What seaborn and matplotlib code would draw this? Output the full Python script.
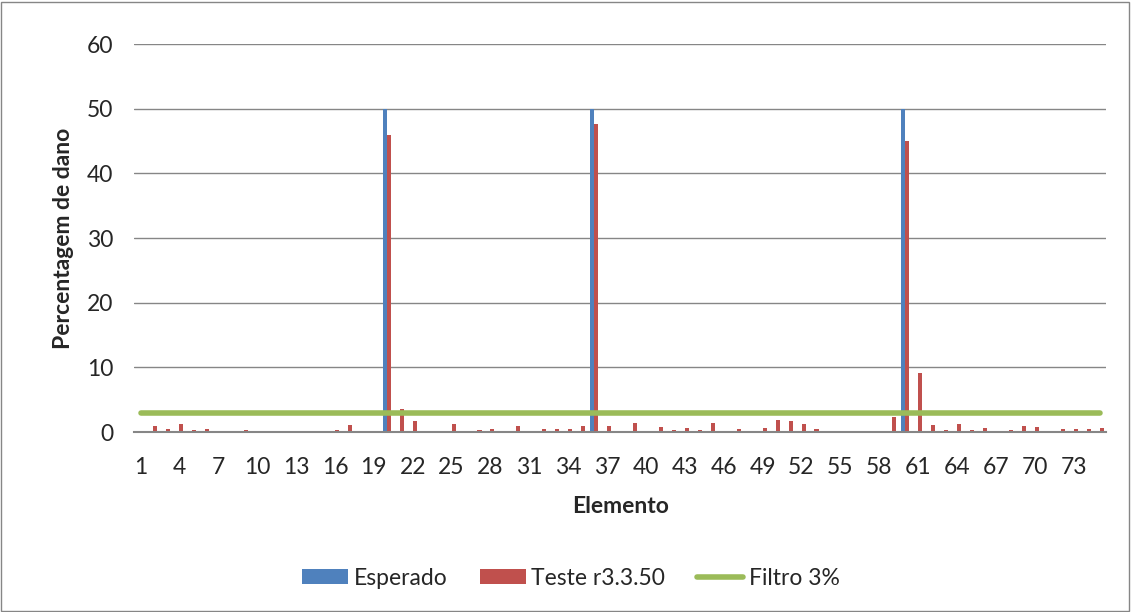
import numpy as np
import pandas as pd
import seaborn as sns
import matplotlib.pyplot as plt
from matplotlib.patches import Rectangle

# element numbers 1..75
elementos = list(range(1, 76))

# expected damage (%) - only three damaged elements
esperado = [0.0] * 75
for e in (20, 36, 60):
    esperado[e - 1] = 50.0

# identified damage (%), test r3.3.50
teste = [
    0.2, 1.0, 0.5, 1.2, 0.3, 0.45, 0.2, 0.2, 0.25, 0.0,
    0.15, 0.15, 0.0, 0.0, 0.2, 0.35, 1.1, 0.2, 0.15, 46.0,
    3.6, 1.65, 0.0, 0.1, 1.25, 0.0, 0.25, 0.5, 0.1, 0.9,
    0.0, 0.45, 0.45, 0.45, 1.0, 47.7, 1.0, 0.0, 1.45, 0.0,
    0.75, 0.35, 0.65, 0.25, 1.35, 0.1, 0.45, 0.0, 0.65, 1.85,
    1.75, 1.2, 0.4, 0.15, 0.15, 0.0, 0.0, 0.0, 2.4, 45.0,
    9.2, 1.1, 0.25, 1.2, 0.25, 0.7, 0.0, 0.25, 1.0, 0.8,
    0.0, 0.4, 0.4, 0.4, 0.65,
]

# 3% filter threshold
filtro = [3.0] * 75

series_names = ["Esperado", "Teste r3.3.50"]
colors = {"Esperado": "#4F81BD", "Teste r3.3.50": "#C0504D"}
green = "#9BBB59"

df = pd.DataFrame({
    "Elemento": [str(e) for e in elementos] * 2,
    "Valor": esperado + teste,
    "Serie": [series_names[0]] * 75 + [series_names[1]] * 75,
})

sns.set_style("white")
plt.rcParams["font.family"] = ["Lato", "DejaVu Sans"]

fig = plt.figure(figsize=(11.31, 6.12), dpi=100)
ax = fig.add_axes([0.1185, 0.294, 0.8595, 0.634])

sns.barplot(data=df, x="Elemento", y="Valor", hue="Serie", palette=colors,
            width=0.62, gap=0, dodge=True, saturation=1, linewidth=0,
            ax=ax, legend=True)
sns.lineplot(x=np.arange(75), y=filtro, color=green, linewidth=4,
             solid_capstyle="round", ax=ax, label="Filtro 3%")

ax.set_ylim(0, 60)
ax.set_yticks(range(0, 61, 10))
ax.set_xlim(-0.5, 74.5)
ax.set_xticks(range(0, 75, 3))
ax.set_xticklabels([str(e) for e in elementos[::3]])
ax.yaxis.grid(True, color="#868686", linewidth=1)
ax.set_axisbelow(True)
for s in ("top", "right", "left"):
    ax.spines[s].set_visible(False)
ax.spines["bottom"].set_color("#868686")
ax.spines["bottom"].set_linewidth(1.5)
ax.tick_params(axis="x", length=0, pad=18, labelsize=16.5)
ax.tick_params(axis="y", length=0, pad=15, labelsize=16.5)

ax.set_xlabel("Elemento", fontsize=16.5, fontweight="bold", labelpad=13)
ax.set_ylabel("Percentagem de dano", fontsize=16.5, fontweight="bold", labelpad=9)

handles, labels = ax.get_legend_handles_labels()
ax.legend(handles, labels, loc="center", bbox_to_anchor=(0.505, 0.055),
          bbox_transform=fig.transFigure, ncol=3, frameon=False, fontsize=16.5,
          handlelength=2.0, handleheight=0.6, handletextpad=0.25,
          columnspacing=1.4)

fig.patches.append(Rectangle((0.001, 0.002), 0.997, 0.995, transform=fig.transFigure,
                             fill=False, edgecolor="#868686", linewidth=1))

fig.savefig("out.png", dpi=100)
